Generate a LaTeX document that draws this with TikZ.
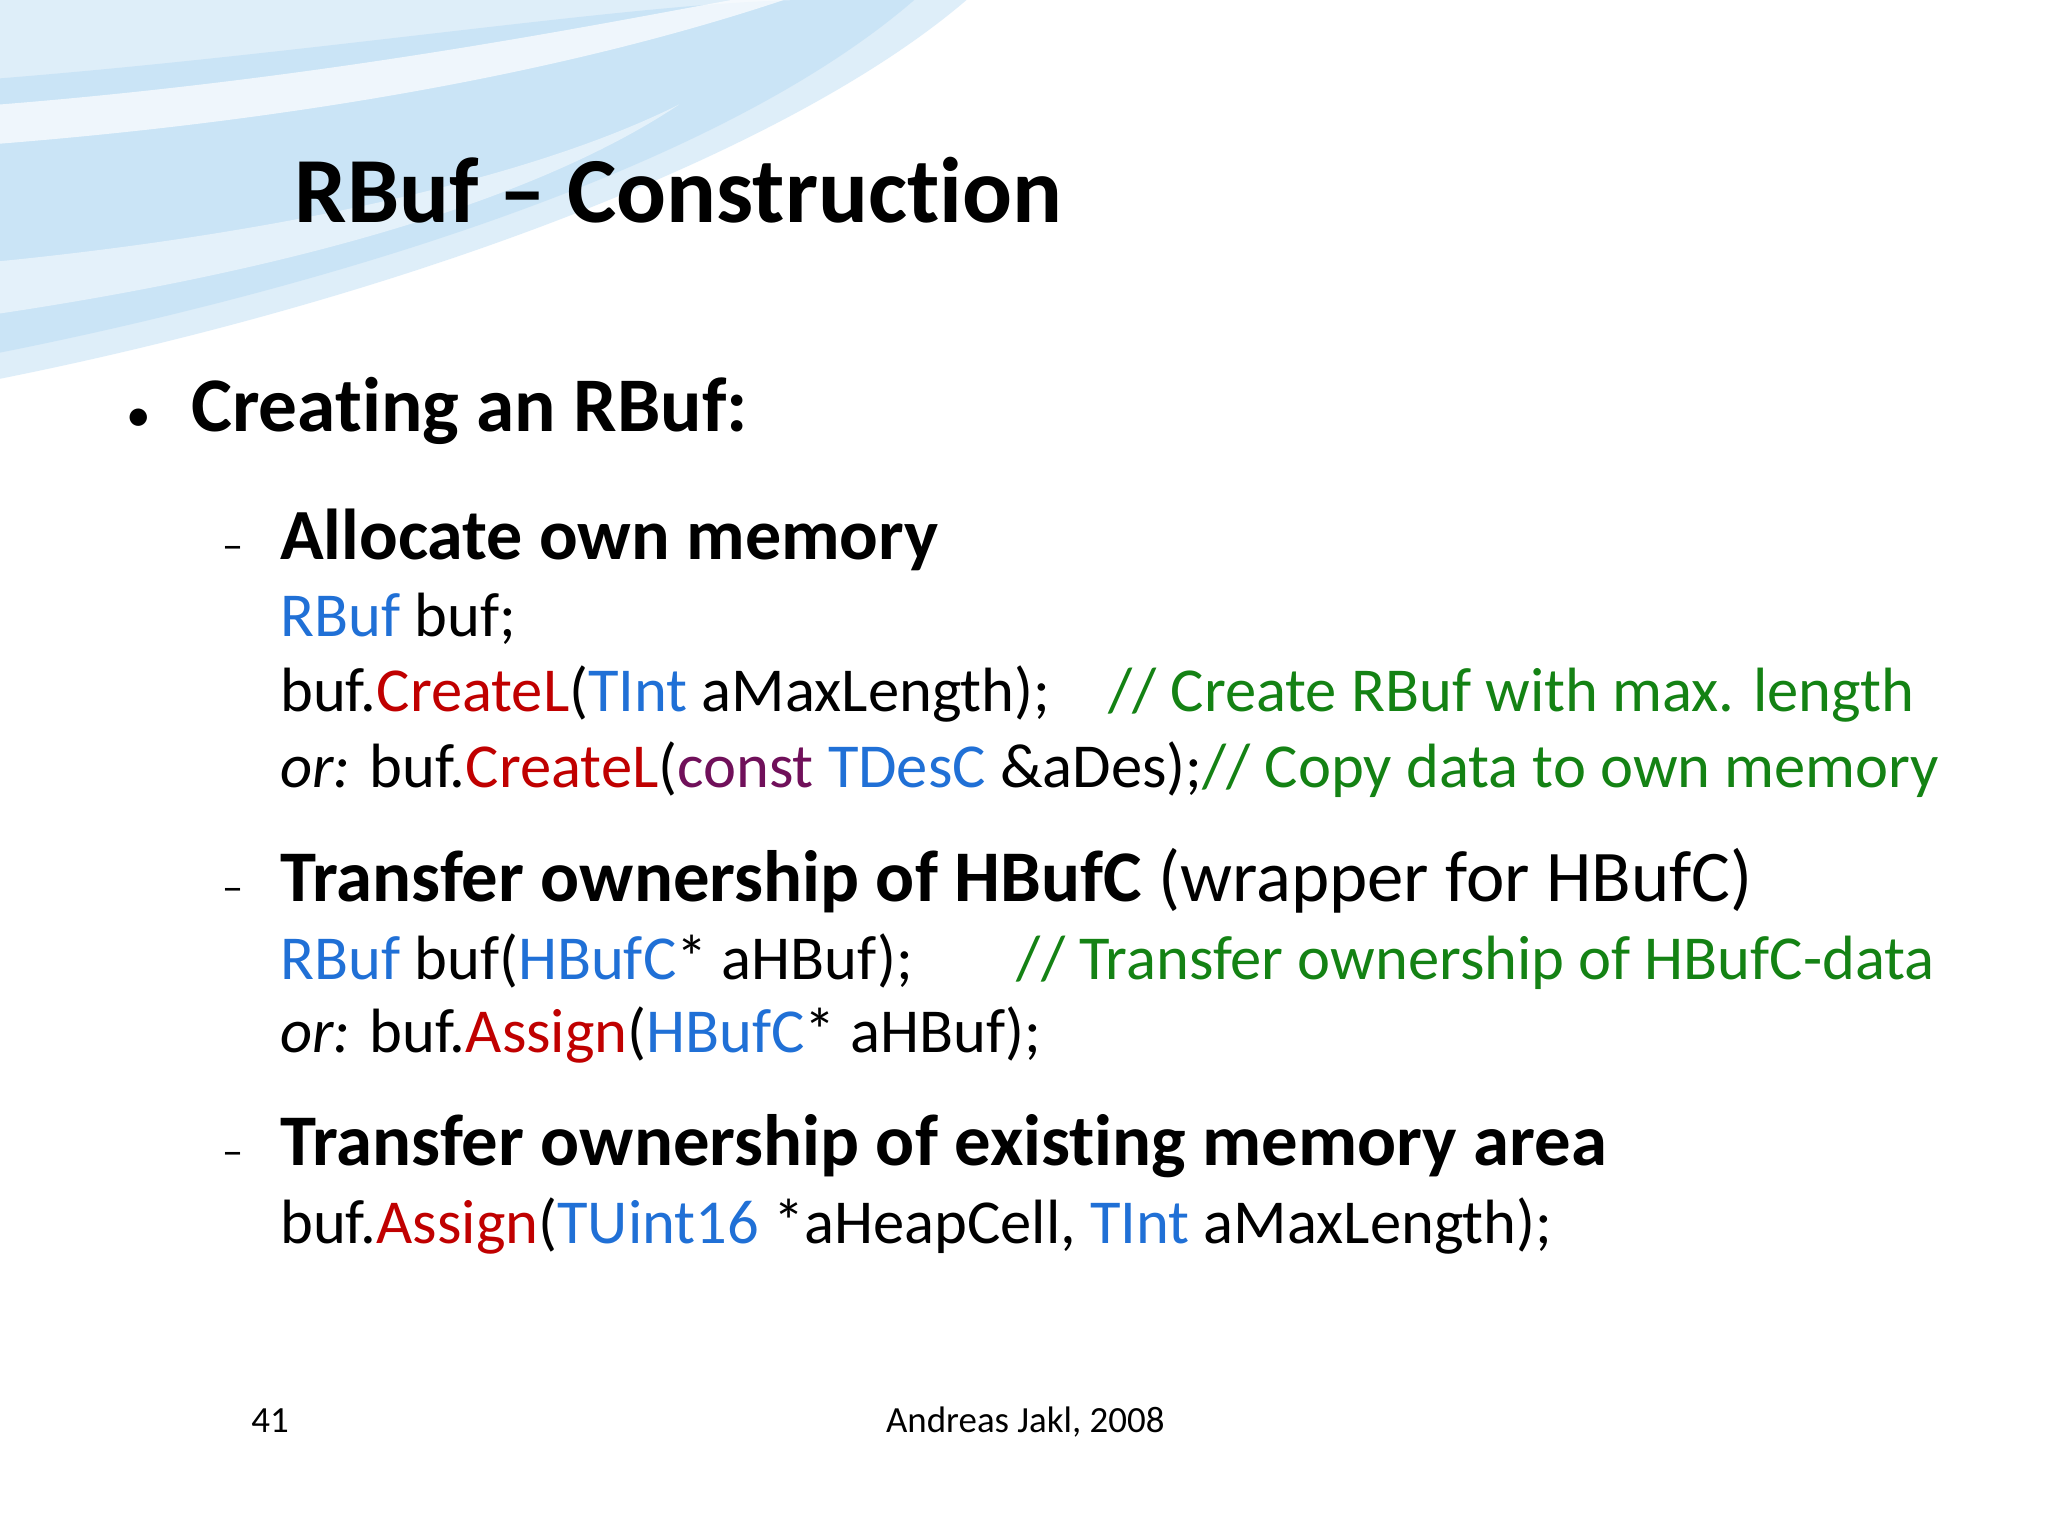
\documentclass[tikz,border=0pt]{standalone}
\usepackage{fontspec}
\setmainfont{Carlito}[Ligatures=NoCommon]
\definecolor{cblue}{RGB}{32,112,214}
\definecolor{cred}{RGB}{192,0,0}
\definecolor{cpurp}{RGB}{112,16,90}
\definecolor{cgreen}{RGB}{20,130,20}
\definecolor{sky}{RGB}{190,222,245}
\tikzset{txt/.style={anchor=base west,inner sep=0pt},
  title/.style={txt,font=\fontsize{26.5}{30}\selectfont\bfseries},
  lvlone/.style={txt,font=\fontsize{22}{25}\selectfont\bfseries},
  lvltwo/.style={txt,font=\fontsize{20.7}{24}\selectfont},
  code/.style={txt,font=\fontsize{17.8}{21}\selectfont},
  dashmark/.style={txt,font=\fontsize{12}{14}\selectfont},
  foot/.style={txt,font=\fontsize{10.5}{12}\selectfont}}
\begin{document}
\begin{tikzpicture}[x=0.01306cm,y=-0.01306cm]
\useasboundingbox (0,0) rectangle (1568,1176);
\fill[white] (0,0) rectangle (1568,1176);
% swoosh
\fill[sky,opacity=0.5] (0,0) -- (740,0) .. controls (600,120) and (300,230) .. (0,290) -- cycle;
\fill[sky,opacity=0.6] (0,60) .. controls (250,40) and (500,0) .. (620,0) -- (700,0) .. controls (550,130) and (250,220) .. (0,270) -- cycle;
\fill[white,opacity=0.7] (0,80) .. controls (250,60) and (450,20) .. (560,0) -- (600,0) .. controls (450,50) and (250,90) .. (0,110) -- cycle;
\fill[white,opacity=0.5] (0,200) .. controls (200,180) and (400,140) .. (520,80) .. controls (400,160) and (200,210) .. (0,240) -- cycle;
\node[title] (t) at (225,170) {RBuf – Construction};
\node[txt,font=\fontsize{14}{16}\selectfont] (b1) at (96,330) {•};
\node[lvlone] (l1) at (146,330) {Creating an RBuf:};
\node[dashmark] (d1) at (170,428) {–};
\node[txt,font=\fontsize{20.5}{24}\selectfont\bfseries] (a) at (214,428) {Allocate own memory};
\node[code] (c1) at (214,487) {\textcolor{cblue}{RBuf} buf;};
\node[code] (c2) at (214,545) {buf.\textcolor{cred}{CreateL}(\textcolor{cblue}{TInt} aMaxLength);};
\node[code,text=cgreen] (m1) at (848,545) {// Create RBuf with max. length};
\node[code] (c3) at (214,603) {\textit{or:} buf.\textcolor{cred}{CreateL}(\textcolor{cpurp}{const} \textcolor{cblue}{TDesC} \&aDes);\textcolor{cgreen}{// Copy data to own memory}};
\node[dashmark] (d2) at (170,690) {–};
\node[lvltwo] (tr) at (214,690) {\textbf{Transfer ownership of HBufC} (wrapper for HBufC)};
\node[code] (c4) at (214,750) {\textcolor{cblue}{RBuf} buf(\textcolor{cblue}{HBufC}* aHBuf);};
\node[code,text=cgreen] (m2) at (778,750) {// Transfer ownership of HBufC-data};
\node[code] (c5) at (214,806) {\textit{or:} buf.\textcolor{cred}{Assign}(\textcolor{cblue}{HBufC}* aHBuf);};
\node[dashmark] (d3) at (170,892) {–};
\node[txt,font=\fontsize{20.7}{24}\selectfont\bfseries] (te) at (214,892) {Transfer ownership of existing memory area};
\node[code] (c6) at (214,952) {buf.\textcolor{cred}{Assign}(\textcolor{cblue}{TUint16} *aHeapCell, \textcolor{cblue}{TInt} aMaxLength);};
\node[foot] (n) at (192,1097) {41};
\node[foot,anchor=base] (au) at (785,1097) {Andreas Jakl, 2008};
\end{tikzpicture}
\end{document}
